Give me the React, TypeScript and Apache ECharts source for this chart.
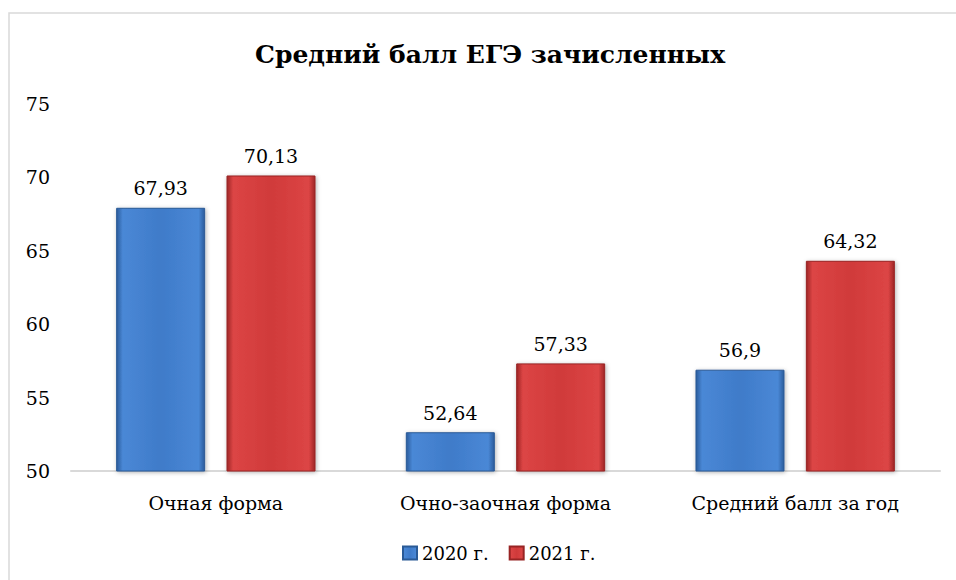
import React, { useEffect, useRef } from "react";
import * as echarts from "echarts";

const categories = ["Очная форма", "Очно-заочная форма", "Средний балл за год"];
const seriesNames = ["2020 г.", "2021 г."];
const values2020 = [67.93, 52.64, 56.9];
const values2021 = [70.13, 57.33, 64.32];
const yTicks = { min: 50, max: 75, interval: 5 };

const FONT = "DejaVu Serif";

const bevel = (dark: string, light: string, mid: string) =>
  new echarts.graphic.LinearGradient(0, 0, 1, 0, [
    { offset: 0, color: dark },
    { offset: 0.07, color: light },
    { offset: 0.5, color: mid },
    { offset: 0.93, color: light },
    { offset: 1, color: dark },
  ]);

export default function App() {
  const ref = useRef<HTMLDivElement>(null);
  useEffect(() => {
    if (!ref.current) return;
    const chart = echarts.init(ref.current, null, { renderer: "svg" });
    const fmt = (p: any) => String(p.value).replace(".", ",");
    const blue = bevel("#2b5c9c", "#4a88d6", "#3f7bc9");
    const red = bevel("#9e2626", "#dc4545", "#d03a3a");
    chart.setOption({
      animation: false,
      backgroundColor: "#ffffff",
      textStyle: { fontFamily: FONT, color: "#000" },
      graphic: [
        {
          type: "rect",
          shape: { x: 9, y: 13, width: 1200, height: 1200 },
          style: { fill: "none", stroke: "#d9d9d9", lineWidth: 1.5 },
          silent: true,
        },
      ],
      title: {
        text: "Средний балл ЕГЭ зачисленных",
        left: 250,
        top: 37,
        textStyle: { fontFamily: FONT, fontSize: 25, fontWeight: "bold", color: "#000" },
      },
      legend: {
        top: 539,
        left: 397,
        icon: "rect",
        itemWidth: 14,
        itemHeight: 13,
        itemGap: 20,
        textStyle: { fontFamily: FONT, fontSize: 18, color: "#000" },
        data: seriesNames,
      },
      grid: { left: 71, right: 16, top: 104, bottom: 109, containLabel: false },
      xAxis: {
        type: "category",
        data: categories,
        axisLine: { lineStyle: { color: "#d9d9d9", width: 2 } },
        axisTick: { show: false },
        axisLabel: { fontFamily: FONT, fontSize: 19, color: "#000", margin: 22 },
      },
      yAxis: {
        type: "value",
        min: yTicks.min,
        max: yTicks.max,
        interval: yTicks.interval,
        splitLine: { show: false },
        axisLine: { show: false },
        axisTick: { show: false },
        axisLabel: { fontFamily: FONT, fontSize: 19, color: "#000", margin: 21 },
      },
      series: [
        {
          name: seriesNames[0],
          type: "bar",
          data: values2020,
          barWidth: 89,
          barGap: "24%",
          itemStyle: {
            color: blue,
            borderColor: "#2a5a96",
            borderWidth: 1,
            shadowColor: "rgba(0,0,0,0.3)",
            shadowBlur: 4,
            shadowOffsetX: 1,
            shadowOffsetY: 1,
          },
          label: {
            show: true,
            position: "top",
            distance: 10,
            formatter: fmt,
            fontFamily: FONT,
            fontSize: 19,
            color: "#000",
          },
        },
        {
          name: seriesNames[1],
          type: "bar",
          data: values2021,
          barWidth: 89,
          itemStyle: {
            color: red,
            borderColor: "#982424",
            borderWidth: 1,
            shadowColor: "rgba(0,0,0,0.3)",
            shadowBlur: 4,
            shadowOffsetX: 1,
            shadowOffsetY: 1,
          },
          label: {
            show: true,
            position: "top",
            distance: 10,
            formatter: fmt,
            fontFamily: FONT,
            fontSize: 19,
            color: "#000",
          },
        },
      ],
    });
    return () => chart.dispose();
  }, []);
  return (
    <div
      ref={ref}
      style={{ position: "absolute", left: 0, top: 0, width: 956, height: 580 }}
    />
  );
}
